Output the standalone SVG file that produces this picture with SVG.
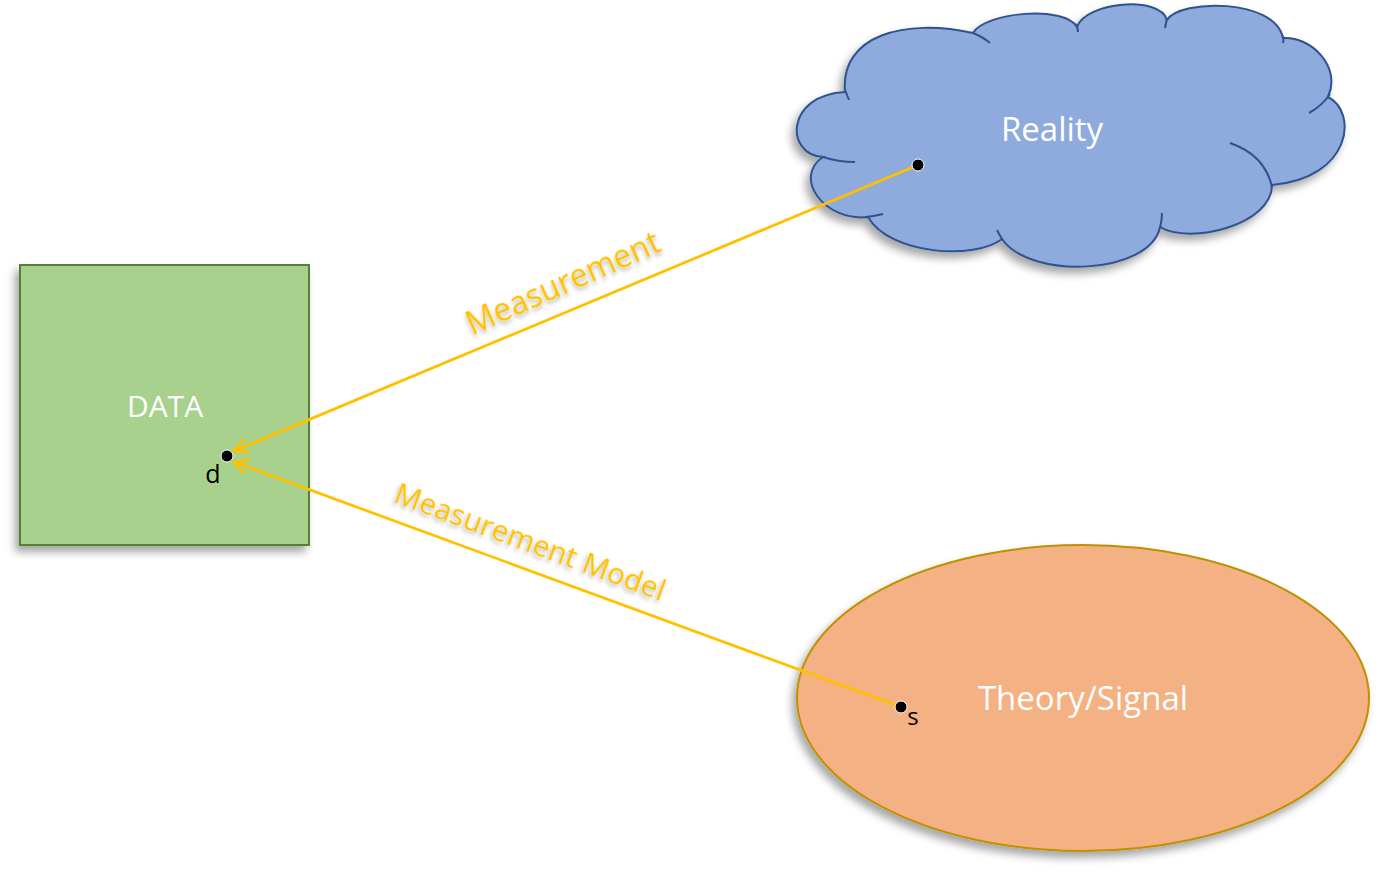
<svg xmlns="http://www.w3.org/2000/svg" width="1381" height="874" viewBox="0 0 1381 874">
<style>
.node-text{font-family:"Open Sans","Liberation Sans",sans-serif;fill:#FFFFFF;text-anchor:middle}
.lbl{font-family:"Open Sans","Liberation Sans",sans-serif;fill:#FFC000;text-anchor:middle}
.pt{font-family:"Open Sans","Liberation Sans",sans-serif;fill:#000000;text-anchor:middle}
.conn{stroke:#FFC000;stroke-width:2.8;fill:none}
.dot{fill:#000000;stroke:#FFFFFF;stroke-width:1}
.inner{fill:none;stroke:#2F528F;stroke-width:2}
</style>
<defs>
<filter id="shadow" x="-20%" y="-20%" width="140%" height="150%">
<feDropShadow dx="-4" dy="6" stdDeviation="4" flood-color="#000000" flood-opacity="0.35"/>
</filter>
<filter id="tshadow" x="-20%" y="-40%" width="140%" height="180%">
<feDropShadow dx="-1" dy="3" stdDeviation="2" flood-color="#000000" flood-opacity="0.3"/>
</filter>
<marker id="arrow" viewBox="0 0 20 20" refX="18" refY="10" markerWidth="20" markerHeight="20" markerUnits="userSpaceOnUse" orient="auto">
<path d="M4,3 L18,10 L4,17" fill="none" stroke="#FFC000" stroke-width="2.8"/>
</marker>
</defs>
<rect width="1381" height="874" fill="#FFFFFF"/>

<g id="data">
<rect x="20" y="265" width="289" height="280" fill="#A9D18E" stroke="#538135" stroke-width="2" filter="url(#shadow)"/>
<text class="node-text" x="165" y="417" font-size="30">DATA</text>
</g>

<g id="reality">
<path d="M845,92 C840,35 905,18 973,33 C985,12 1065,5 1077,27 C1085,2 1160,-5 1167,20 C1180,-1 1275,-2 1283,38 C1310,36 1342,66 1328,97 C1358,112 1352,178 1272,185 C1272,225 1190,245 1160,227 C1150,275 1030,280 1002,239 C975,260 890,255 868,217 C825,222 792,178 823,157 C785,155 785,95 845,92 Z" fill="#8FAADC" stroke="#2F528F" stroke-width="2" filter="url(#shadow)"/>
<path class="inner" d="M845,90 Q847,95 849,100"/>
<path class="inner" d="M973,33 Q983,37 990,43"/>
<path class="inner" d="M1076,24 Q1078,28 1078,32"/>
<path class="inner" d="M1167,18 Q1166,23 1165,28"/>
<path class="inner" d="M1283,36 Q1284,40 1283,43"/>
<path class="inner" d="M1330,94 Q1322,106 1309,113"/>
<path class="inner" d="M1230,143 Q1265,155 1272,187"/>
<path class="inner" d="M1160,228 Q1162,220 1162,213"/>
<path class="inner" d="M1002,239 Q999,234 997,230"/>
<path class="inner" d="M866,217 Q875,216 883,214"/>
<path class="inner" d="M823,157 Q838,162 855,162"/>
<text class="node-text" x="1052" y="141" font-size="33">Reality</text>
</g>

<g id="theory">
<ellipse cx="1083" cy="698" rx="286" ry="153" fill="#F4B183" stroke="#BF9000" stroke-width="2" filter="url(#shadow)"/>
<text class="node-text" x="1083" y="710" font-size="33">Theory/Signal</text>
</g>

<g id="connectors">
<line class="conn" x1="918" y1="165" x2="234" y2="451" marker-end="url(#arrow)"/>
<line class="conn" x1="901" y1="707" x2="234" y2="462" marker-end="url(#arrow)"/>
</g>

<g id="labels">
<text class="lbl" font-size="32" transform="translate(563,283) rotate(-24)" y="11" filter="url(#tshadow)">Measurement</text>
<text class="lbl" font-size="29.5" transform="translate(530,542) rotate(20.3)" y="10" filter="url(#tshadow)">Measurement Model</text>
</g>

<g id="point-r">
<circle class="dot" cx="918" cy="165" r="6"/>
</g>
<g id="point-d">
<circle class="dot" cx="227" cy="456" r="6"/>
<text class="pt" x="213" y="483" font-size="25">d</text>
</g>
<g id="point-s">
<circle class="dot" cx="901" cy="707" r="6"/>
<text class="pt" x="913" y="725" font-size="24">s</text>
</g>
</svg>
